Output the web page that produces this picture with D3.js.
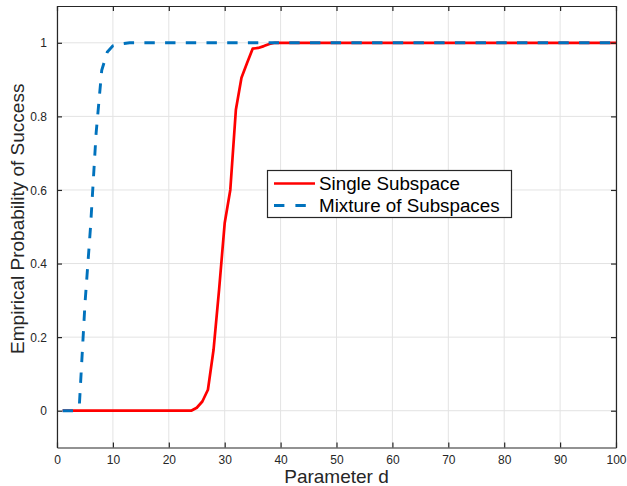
<!DOCTYPE html>
<html>
<head>
<meta charset="utf-8">
<script src="https://cdn.jsdelivr.net/npm/d3@7"></script>
<style>
  html, body { margin: 0; padding: 0; background: #fff; }
  svg { display: block; font-family: "Liberation Sans", Arial, Helvetica, sans-serif; }
</style>
</head>
<body>
<svg id="chart" width="627" height="486"></svg>
<script>
// ---- data ----
const dValues = [1,2,3,4,5,6,7,8,9,10,11,12,13,14,15,16,17,18,19,20,
  21,22,23,24,25,26,27,28,29,30,31,32,33,34,35,36,37,38,39,40,
  41,42,43,44,45,46,47,48,49,50,51,52,53,54,55,56,57,58,59,60,
  61,62,63,64,65,66,67,68,69,70,71,72,73,74,75,76,77,78,79,80,
  81,82,83,84,85,86,87,88,89,90,91,92,93,94,95,96,97,98,99,100];

const singleSubspace = [0,0,0,0,0,0,0,0,0,0,0,0,0,0,0,0,0,0,0,0,
  0,0,0,0,0.008,0.025,0.057,0.165,0.33,0.51,0.60,0.818,0.905,0.945,0.984,0.986,0.991,0.997,1,1,
  1,1,1,1,1,1,1,1,1,1,1,1,1,1,1,1,1,1,1,1,
  1,1,1,1,1,1,1,1,1,1,1,1,1,1,1,1,1,1,1,1,
  1,1,1,1,1,1,1,1,1,1,1,1,1,1,1,1,1,1,1,1];

const mixtureSubspaces = [0,0,0,0.015,0.29,0.5,0.755,0.925,0.975,0.992,0.996,0.998,1,1,1,1,1,1,1,1,
  1,1,1,1,1,1,1,1,1,1,1,1,1,1,1,1,1,1,1,1,
  1,1,1,1,1,1,1,1,1,1,1,1,1,1,1,1,1,1,1,1,
  1,1,1,1,1,1,1,1,1,1,1,1,1,1,1,1,1,1,1,1,
  1,1,1,1,1,1,1,1,1,1,1,1,1,1,1,1,1,1,1,1];

const seriesNames = ["Single Subspace", "Mixture of Subspaces"];
const xTicks = [0,10,20,30,40,50,60,70,80,90,100];
const yTicks = [0,0.2,0.4,0.6,0.8,1];
const xLabel = "Parameter d";
const yLabel = "Empirical Probability of Success";

// ---- layout ----
const W = 627, H = 486;
const margin = {left: 57, right: 11, top: 6, bottom: 38.5};
const pw = W - margin.left - margin.right;
const ph = H - margin.top - margin.bottom;
const axisColor = "#262626";
const gridColor = "#e3e3e3";

const svg = d3.select("#chart");
const g = svg.append("g").attr("transform", `translate(${margin.left},${margin.top})`);

const x = d3.scaleLinear().domain([0, 100]).range([0, pw]);
const y = d3.scaleLinear().domain([-0.1, 1.1]).range([ph, 0]);

// grid
g.append("g").selectAll("line").data(xTicks).join("line")
  .attr("x1", d => x(d)).attr("x2", d => x(d))
  .attr("y1", 0).attr("y2", ph)
  .attr("stroke", gridColor).attr("stroke-width", 1);
g.append("g").selectAll("line").data(yTicks).join("line")
  .attr("y1", d => y(d)).attr("y2", d => y(d))
  .attr("x1", 0).attr("x2", pw)
  .attr("stroke", gridColor).attr("stroke-width", 1);

// lines
const data1 = dValues.map((d, i) => [d, singleSubspace[i]]);
const data2 = dValues.map((d, i) => [d, mixtureSubspaces[i]]);
const line = d3.line().x(d => x(d[0])).y(d => y(d[1]));

g.append("path").datum(data1).attr("d", line)
  .attr("fill", "none").attr("stroke", "#ff0000").attr("stroke-width", 2.7)
  .attr("stroke-linejoin", "round");
g.append("path").datum(data2).attr("d", line)
  .attr("fill", "none").attr("stroke", "#0072bd").attr("stroke-width", 2.9)
  .attr("stroke-dasharray", "10.4,10.3");

// axes (box with inward ticks)
const tickLen = 5;
const fmt = d => d3.format("")(d);
const xb = g.append("g").attr("transform", `translate(0,${ph})`)
  .call(d3.axisBottom(x).tickValues(xTicks).tickSizeInner(-tickLen).tickSizeOuter(0).tickPadding(8).tickFormat(fmt));
const xt = g.append("g")
  .call(d3.axisTop(x).tickValues(xTicks).tickSizeInner(-tickLen).tickSizeOuter(0).tickFormat(""));
const yl = g.append("g")
  .call(d3.axisLeft(y).tickValues(yTicks).tickSizeInner(-tickLen).tickSizeOuter(0).tickPadding(10).tickFormat(fmt));
const yr = g.append("g").attr("transform", `translate(${pw},0)`)
  .call(d3.axisRight(y).tickValues(yTicks).tickSizeInner(-tickLen).tickSizeOuter(0).tickFormat(""));

[xb, xt, yl, yr].forEach(a => {
  a.select(".domain").attr("stroke", axisColor).attr("stroke-width", 1.2);
  a.selectAll(".tick line").attr("stroke", axisColor).attr("stroke-width", 1.2);
  a.selectAll("text").attr("fill", axisColor).attr("font-size", 12)
    .attr("font-family", "Liberation Sans, Arial, sans-serif");
});
yl.selectAll("text").attr("dy", "0.35em");

// axis labels
svg.append("text").attr("x", margin.left + pw / 2).attr("y", 483)
  .attr("text-anchor", "middle").attr("font-size", 19).attr("fill", axisColor)
  .text(xLabel);
svg.append("text")
  .attr("transform", `translate(24,${margin.top + ph / 2 - 8}) rotate(-90)`)
  .attr("text-anchor", "middle").attr("font-size", 19).attr("fill", axisColor)
  .text(yLabel);

// legend
const lg = svg.append("g");
lg.append("rect").attr("x", 267.5).attr("y", 170.5).attr("width", 244).attr("height", 47)
  .attr("fill", "#fff").attr("stroke", axisColor).attr("stroke-width", 1.2);
const legendItems = [
  {name: seriesNames[0], color: "#ff0000", dash: null, w: 2.7, yy: 183.5},
  {name: seriesNames[1], color: "#0072bd", dash: "10.4,11", w: 2.9, yy: 205.5}
];
legendItems.forEach(it => {
  lg.append("line").attr("x1", 274).attr("x2", 315).attr("y1", it.yy).attr("y2", it.yy)
    .attr("stroke", it.color).attr("stroke-width", it.w)
    .attr("stroke-dasharray", it.dash);
  lg.append("text").attr("x", 319).attr("y", it.yy + 6.8)
    .attr("font-size", 18.8).attr("fill", "#000").text(it.name);
});
</script>
</body>
</html>
